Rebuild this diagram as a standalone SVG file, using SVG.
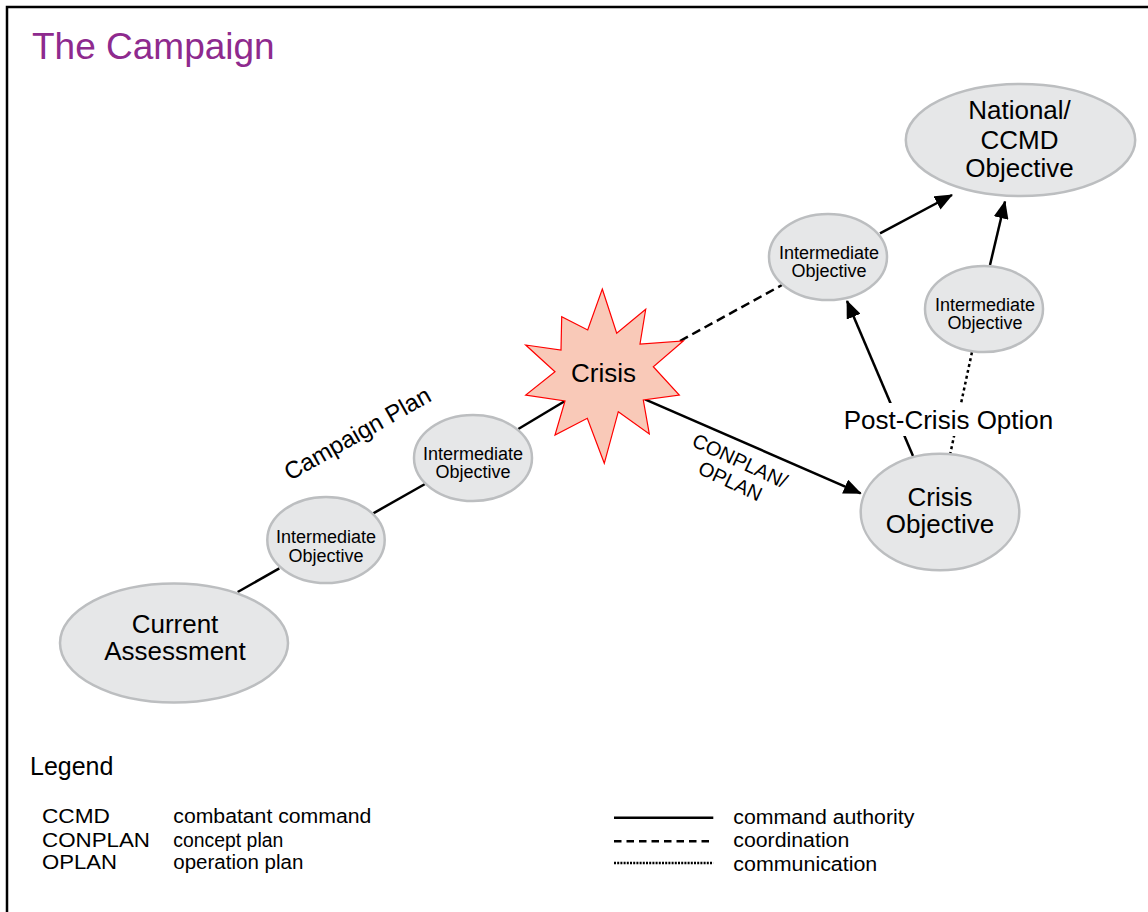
<svg xmlns="http://www.w3.org/2000/svg" width="1148" height="912" viewBox="0 0 1148 912">
<defs>
<style>
text{font-family:"Liberation Sans",Arial,sans-serif;fill:#000}
.oval{fill:#e6e7e8;stroke:#bcbec0;stroke-width:2.5}
.big{font-size:26px;text-anchor:middle}
.small{font-size:18px;text-anchor:middle}
.solid{stroke:#000;stroke-width:2.5;fill:none}
.dash{stroke:#000;stroke-width:2.5;fill:none;stroke-dasharray:9 5}
.dot{stroke:#000;stroke-width:2.5;fill:none;stroke-dasharray:3 3}
.leg{font-size:20px}
</style>
<marker id="ah" markerUnits="userSpaceOnUse" markerWidth="18" markerHeight="15" viewBox="0 0 18 15" refX="17" refY="7.5" orient="auto">
<path d="M0,0 L18,7.5 L0,15 z" fill="#000"/>
</marker>
</defs>
<rect x="0" y="0" width="1148" height="912" fill="#fff"/>
<path d="M7,912 V7 H1148" fill="none" stroke="#000" stroke-width="2.5"/>
<text x="32" y="59" font-size="37" style="fill:#8e2a8e">The Campaign</text>

<g id="connectors">
<line class="solid" x1="237.7" y1="592" x2="279.3" y2="568.3"/>
<line class="solid" x1="373.3" y1="513.3" x2="425" y2="484"/>
<line class="solid" x1="518.3" y1="429" x2="565" y2="401"/>
<line class="solid" x1="645" y1="399.3" x2="860.7" y2="493.3" marker-end="url(#ah)"/>
<line class="dash" x1="680" y1="341" x2="782" y2="285"/>
<line class="solid" x1="913" y1="456" x2="847" y2="301" marker-end="url(#ah)"/>
<line class="dot" x1="950" y1="455" x2="972" y2="352"/>
<line class="solid" x1="880" y1="233.3" x2="952" y2="195" marker-end="url(#ah)"/>
<line class="solid" x1="990" y1="265" x2="1005" y2="201.5" marker-end="url(#ah)"/>
<rect x="838" y="403" width="220" height="33" fill="#fff"/>
<text x="948.5" y="429.3" font-size="26" text-anchor="middle">Post-Crisis Option</text>
<text transform="translate(290,481) rotate(-29.5)" font-size="24">Campaign Plan</text>
<text transform="translate(737,467) rotate(25)" font-size="20" text-anchor="middle"><tspan x="0" y="0">CONPLAN/</tspan><tspan x="0" y="22.5">OPLAN</tspan></text>
</g>

<g id="current-assessment">
<ellipse class="oval" cx="174" cy="643" rx="114" ry="59.5"/>
<text class="big" x="175" y="633">Current</text>
<text class="big" x="175" y="660">Assessment</text>
</g>
<g id="io1">
<ellipse class="oval" cx="326" cy="540" rx="58.7" ry="43"/>
<text class="small" x="326" y="543.3">Intermediate</text>
<text class="small" x="326" y="561.7">Objective</text>
</g>
<g id="io2">
<ellipse class="oval" cx="473" cy="458" rx="59" ry="43"/>
<text class="small" x="473" y="460">Intermediate</text>
<text class="small" x="473" y="478">Objective</text>
</g>
<g id="crisis">
<polygon points="602.3,289 616.7,333.3 645.7,309.3 640,344 683.3,341 653.3,366.7 679.3,395 643.3,400 649.3,434 618.3,411.7 604.3,463.3 587.3,418.3 555,435 565,401 525.7,395 555,371.7 525.7,345 561,350 561.7,316.7 587.7,330" fill="#f9c9b8" stroke="#ff0000" stroke-width="1.2"/>
<text class="big" x="603.5" y="381.7">Crisis</text>
</g>
<g id="io3">
<ellipse class="oval" cx="828" cy="257" rx="59" ry="43"/>
<text class="small" x="829" y="259.3">Intermediate</text>
<text class="small" x="829" y="277.3">Objective</text>
</g>
<g id="io4">
<ellipse class="oval" cx="984" cy="309" rx="59" ry="43"/>
<text class="small" x="985" y="311">Intermediate</text>
<text class="small" x="985" y="329">Objective</text>
</g>
<g id="national-objective">
<ellipse class="oval" cx="1020.5" cy="140" rx="114.7" ry="56"/>
<text class="big" x="1019.5" y="119.3">National/</text>
<text class="big" x="1019.5" y="149.3">CCMD</text>
<text class="big" x="1019.5" y="176.7">Objective</text>
</g>
<g id="crisis-objective">
<ellipse class="oval" cx="940" cy="512" rx="79.3" ry="58.3"/>
<text class="big" x="940" y="505.5">Crisis</text>
<text class="big" x="940" y="533">Objective</text>
</g>

<g id="legend">
<text x="30" y="775" font-size="25">Legend</text>
<text class="leg" x="42" y="822.7" textLength="68" lengthAdjust="spacingAndGlyphs">CCMD</text>
<text class="leg" x="42" y="846.7" textLength="108" lengthAdjust="spacingAndGlyphs">CONPLAN</text>
<text class="leg" x="42" y="869.3" textLength="75" lengthAdjust="spacingAndGlyphs">OPLAN</text>
<text class="leg" x="173.3" y="822.7" textLength="198" lengthAdjust="spacingAndGlyphs">combatant command</text>
<text class="leg" x="173.3" y="846.7" textLength="110" lengthAdjust="spacingAndGlyphs">concept plan</text>
<text class="leg" x="173.3" y="869.3" textLength="130" lengthAdjust="spacingAndGlyphs">operation plan</text>
<line class="solid" x1="614" y1="817.7" x2="713.3" y2="817.7"/>
<line x1="614" y1="841.3" x2="713.3" y2="841.3" stroke="#000" stroke-width="2.5" stroke-dasharray="7.5 5"/>
<line x1="614" y1="863" x2="713.3" y2="863" stroke="#000" stroke-width="2.5" stroke-dasharray="2 1.2"/>
<text class="leg" x="733.3" y="824" textLength="181" lengthAdjust="spacingAndGlyphs">command authority</text>
<text class="leg" x="733.3" y="847" textLength="116" lengthAdjust="spacingAndGlyphs">coordination</text>
<text class="leg" x="733.3" y="870.5" textLength="144" lengthAdjust="spacingAndGlyphs">communication</text>
</g>
</svg>
